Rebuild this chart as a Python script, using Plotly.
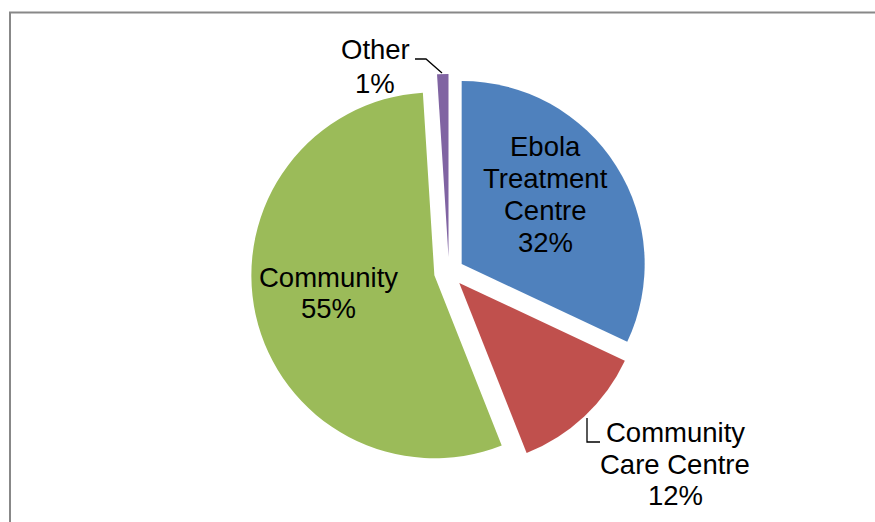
import plotly.graph_objects as go

W, H = 875, 522

labels = ["Ebola<br>Treatment<br>Centre", "Community<br>Care Centre", "Community", "Other"]
values = [32, 12, 55, 1]
colors = ["#4F81BD", "#C0504D", "#9BBB59", "#8064A2"]
pulls = [0.082, 0.082, 0.082, 0.082]

# label block centres in pixels (x, y) and line spacing for annotations
label_pos = [(545, 194.5), (675, 464), (328, 293), (375, 66)]
line_gap = [32, 31.5, 31.5, 34]

def px(x):
    return x / W

def py(y):
    return 1 - y / H

fig = go.Figure()
fig.add_trace(go.Pie(
    labels=labels,
    values=values,
    marker=dict(colors=colors, line=dict(width=0)),
    pull=pulls,
    sort=False,
    direction="clockwise",
    rotation=0,
    textinfo="none",
    hoverinfo="label+percent",
    showlegend=False,
    domain=dict(x=[px(251), px(647)], y=[py(470), py(74)]),
))

total = sum(values)
annotations = []
for lab, val, (x, y), gap in zip(labels, values, label_pos, line_gap):
    lines = lab.split("<br>") + [f"{round(val / total * 100)}%"]
    n = len(lines)
    for i, line in enumerate(lines):
        yy = y + (i - (n - 1) / 2) * gap
        annotations.append(dict(
            x=px(x), y=py(yy), xref="paper", yref="paper",
            text=line,
            showarrow=False, xanchor="center", yanchor="middle",
            font=dict(family="Liberation Sans, Arial, sans-serif", size=27.5, color="black"),
            align="center",
        ))

shapes = [
    # chart frame
    dict(type="rect", xref="paper", yref="paper",
         x0=px(10), y0=py(535), x1=px(890), y1=py(12.5),
         line=dict(color="#888888", width=2), fillcolor="rgba(0,0,0,0)"),
    # leader line: Other
    dict(type="path", xref="paper", yref="paper",
         path=f"M {px(415)},{py(59)} L {px(426)},{py(59)} L {px(442)},{py(73)}",
         line=dict(color="black", width=1.3)),
    # leader line: Community Care Centre
    dict(type="path", xref="paper", yref="paper",
         path=f"M {px(587)},{py(418)} L {px(587)},{py(442)} L {px(600)},{py(442)}",
         line=dict(color="black", width=1.3)),
]

fig.update_layout(
    width=W, height=H,
    margin=dict(l=0, r=0, t=0, b=0, pad=0),
    paper_bgcolor="white",
    plot_bgcolor="white",
    annotations=annotations,
    shapes=shapes,
)

fig.write_html(
    "out.html",
    config={"displayModeBar": False},
    post_script="document.body.style.margin='0';document.body.style.overflow='hidden';",
)
